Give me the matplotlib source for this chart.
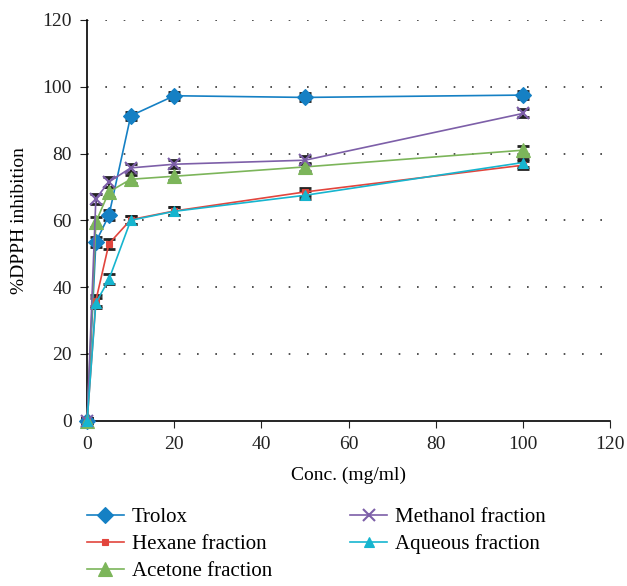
import matplotlib.pyplot as plt

plt.rcParams['font.family'] = ['Liberation Serif', 'DejaVu Serif']

# Concentrations (mg/ml)
conc = [0, 2, 5, 10, 20, 50, 100]

# %DPPH inhibition
trolox = [0, 53.5, 61.5, 91.3, 97.3, 96.8, 97.5]
hexane = [0, 36.0, 53.0, 60.2, 62.8, 68.5, 76.5]
acetone = [0, 59.5, 68.5, 72.3, 73.2, 76.0, 81.0]
methanol = [0, 66.5, 71.5, 75.7, 76.8, 78.0, 92.0]
aqueous = [0, 35.3, 42.3, 60.0, 62.7, 67.5, 77.3]

# small error bars visible behind markers
err = [0.8, 1.5, 1.5, 1.2, 1.2, 1.2, 1.2]

series = [
    ('Trolox', trolox, '#1580c4', 'D', 8),
    ('Hexane fraction', hexane, '#e2453d', 's', 5),
    ('Acetone fraction', acetone, '#7cb55a', '^', 10),
    ('Methanol fraction', methanol, '#7d5fa8', 'x', 9),
    ('Aqueous fraction', aqueous, '#16b5cf', '^', 7),
]

fig = plt.figure(figsize=(6.27, 5.86), dpi=100)
ax = fig.add_axes([0.139, 0.282, 0.834, 0.684])

for y in range(20, 121, 20):
    ax.axhline(y, color='#333333', linestyle=(0, (1, 10)), linewidth=1.2, zorder=0)

handles = []
for name, vals, col, mk, ms in series:
    ax.errorbar(conc, vals, yerr=err, fmt='none', ecolor='#222222',
                elinewidth=1.5, capsize=4, capthick=2, zorder=2, clip_on=False)
    h, = ax.plot(conc, vals, color=col, marker=mk, markersize=ms,
                 markeredgewidth=1.5 if mk == 'x' else 0.8, linewidth=1.2,
                 label=name, zorder=3, clip_on=False)
    handles.append(h)

ax.set_xlim(0, 120)
ax.set_ylim(0, 120)
ax.set_xticks(range(0, 121, 20))
ax.set_yticks(range(0, 121, 20))
ax.spines['top'].set_visible(False)
ax.spines['right'].set_visible(False)
ax.spines['left'].set_linewidth(1.2)
ax.spines['bottom'].set_linewidth(1.2)
ax.tick_params(labelsize=14, direction='out', length=5, pad=6, colors='#222222')
ax.set_xlabel('Conc. (mg/ml)', fontsize=14, labelpad=10)
ax.set_ylabel('%DPPH inhibition', fontsize=14, labelpad=10)

fig.legend(handles=handles, loc='upper left', bbox_to_anchor=(0.139, 0.134),
           ncol=2, frameon=False, fontsize=15, handlelength=1.75,
           columnspacing=3.75, labelspacing=0.36, handletextpad=0.4,
           borderaxespad=0, borderpad=0)

fig.savefig('out.png', dpi=100)
